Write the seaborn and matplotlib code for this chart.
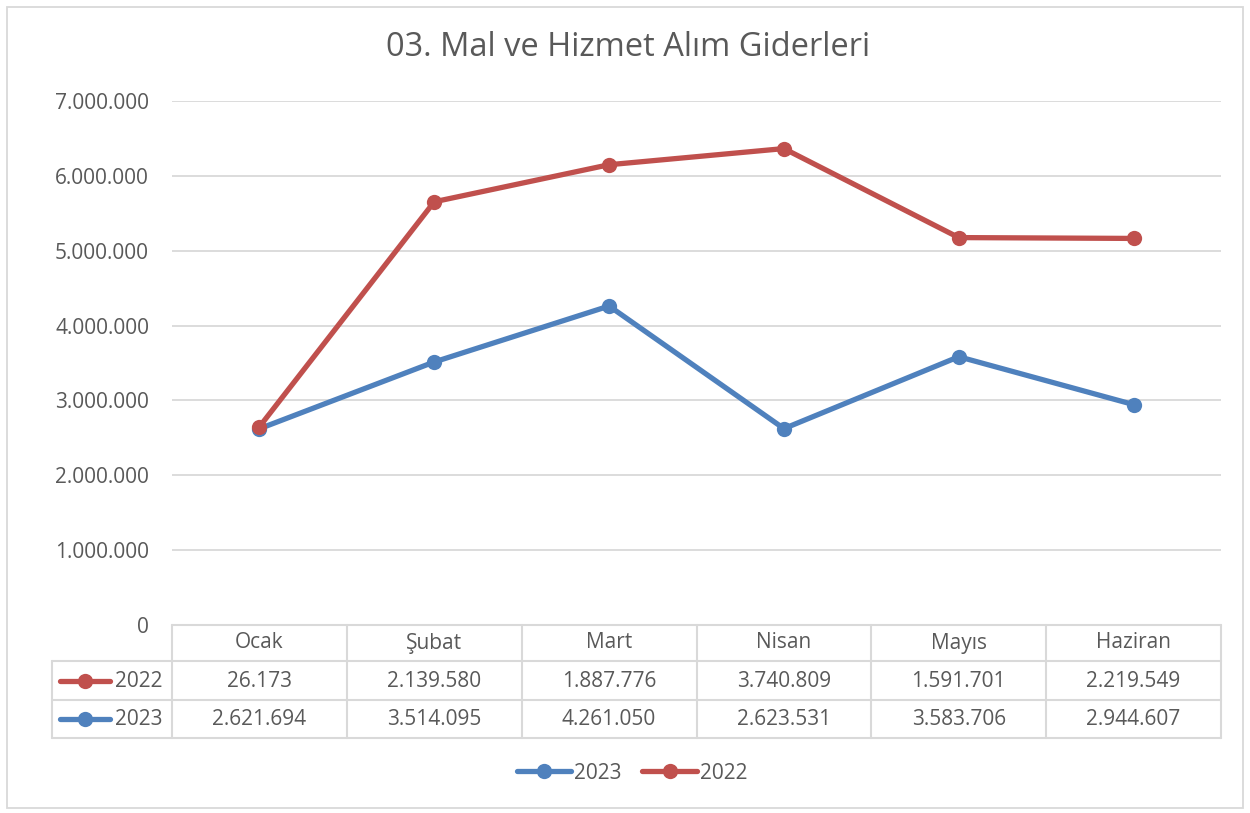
import pandas as pd
import matplotlib.pyplot as plt
import seaborn as sns
from matplotlib.lines import Line2D
from matplotlib.patches import Rectangle

months = ["Ocak", "Şubat", "Mart", "Nisan", "Mayıs", "Haziran"]
v2022 = [26173, 2139580, 1887776, 3740809, 1591701, 2219549]
v2023 = [2621694, 3514095, 4261050, 2623531, 3583706, 2944607]
yticks = [0, 1000000, 2000000, 3000000, 4000000, 5000000, 6000000, 7000000]

RED = "#C0504D"
BLUE = "#4F81BD"
GRID = "#D9D9D9"
TXT = "#595959"
FS = 15


def fmt(v):
    return f"{v:,}".replace(",", ".")


sns.set_theme(style="white")
plt.rcParams["font.family"] = ["Open Sans", "DejaVu Sans"]

# stacked line chart: 2022 series sits on top of 2023
stack2022 = [a + b for a, b in zip(v2023, v2022)]
df = pd.DataFrame({
    "ay": months * 2,
    "x": list(range(6)) * 2,
    "deger": v2023 + stack2022,
    "yil": ["2023"] * 6 + ["2022"] * 6,
})

W, H = 1250, 813
fig = plt.figure(figsize=(12.5, 8.13), dpi=100)
fig.patch.set_facecolor("white")


def fx(px):
    return px / W


def fy(py):
    return 1 - py / H


ax = fig.add_axes([fx(172), fy(625), fx(1221) - fx(172), fy(101) - fy(625)])
sns.lineplot(data=df, x="x", y="deger", hue="yil", hue_order=["2023", "2022"],
             palette={"2023": BLUE, "2022": RED}, marker="o", markersize=11,
             markeredgewidth=0, linewidth=3.8, ax=ax, legend=False)
ax.set_xlim(-0.5, 5.5)
ax.set_ylim(0, 7000000)
ax.set_yticks(yticks)
ax.set_yticklabels([fmt(t) for t in yticks], fontsize=FS, color=TXT)
ax.set_xticks([])
ax.set_xlabel("")
ax.set_ylabel("")
ax.tick_params(axis="y", length=0, pad=16.5)
for t in yticks[1:]:
    ax.axhline(t, color=GRID, lw=1.3, zorder=0)
for s in ax.spines.values():
    s.set_visible(False)

# data table under the plot
col_edges = [172 + i * (1221 - 172) / 6 for i in range(7)]
rows_y = [625, 661, 700, 738]
lk = dict(color=GRID, lw=1.5, transform=fig.transFigure)
fig.add_artist(Line2D([fx(172), fx(1221)], [fy(625), fy(625)], **lk))
for yy in rows_y[1:]:
    fig.add_artist(Line2D([fx(52), fx(1221)], [fy(yy), fy(yy)], **lk))
for xx in col_edges:
    fig.add_artist(Line2D([fx(xx), fx(xx)], [fy(625), fy(738)], **lk))
fig.add_artist(Line2D([fx(52), fx(52)], [fy(661), fy(738)], **lk))

for i, m in enumerate(months):
    cx = fx((col_edges[i] + col_edges[i + 1]) / 2)
    fig.text(cx, fy(643), m, ha="center", va="center", fontsize=FS, color=TXT)
    fig.text(cx, fy(681), fmt(v2022[i]), ha="center", va="center", fontsize=FS, color=TXT)
    fig.text(cx, fy(719), fmt(v2023[i]), ha="center", va="center", fontsize=FS, color=TXT)

for label, col, yy in [("2022", RED, 681), ("2023", BLUE, 719)]:
    fig.add_artist(Line2D([fx(60), fx(110)], [fy(yy), fy(yy)], color=col, lw=3.8,
                          solid_capstyle="round", transform=fig.transFigure))
    fig.add_artist(Line2D([fx(85)], [fy(yy)], color=col, marker="o", markersize=11,
                          markeredgewidth=0, transform=fig.transFigure))
    fig.text(fx(115), fy(yy), label, ha="left", va="center", fontsize=FS, color=TXT)

handles = [Line2D([], [], color=BLUE, lw=3.8, marker="o", markersize=11, markeredgewidth=0,
                  solid_capstyle="round"),
           Line2D([], [], color=RED, lw=3.8, marker="o", markersize=11, markeredgewidth=0,
                  solid_capstyle="round")]
fig.legend(handles, ["2023", "2022"], loc="center", bbox_to_anchor=(fx(632), fy(773)),
           ncol=2, frameon=False, fontsize=FS, labelcolor=TXT, handlelength=2.6,
           handletextpad=0.15, columnspacing=1.0)

fig.text(fx(628), fy(47), "03. Mal ve Hizmet Alım Giderleri", ha="center", va="center",
         fontsize=23.5, color=TXT)

fig.add_artist(Rectangle((fx(7), fy(808)), fx(1243) - fx(7), fy(7) - fy(808),
                         transform=fig.transFigure, fill=False, edgecolor=GRID, lw=1.3))

fig.savefig("out.png", dpi=100)
